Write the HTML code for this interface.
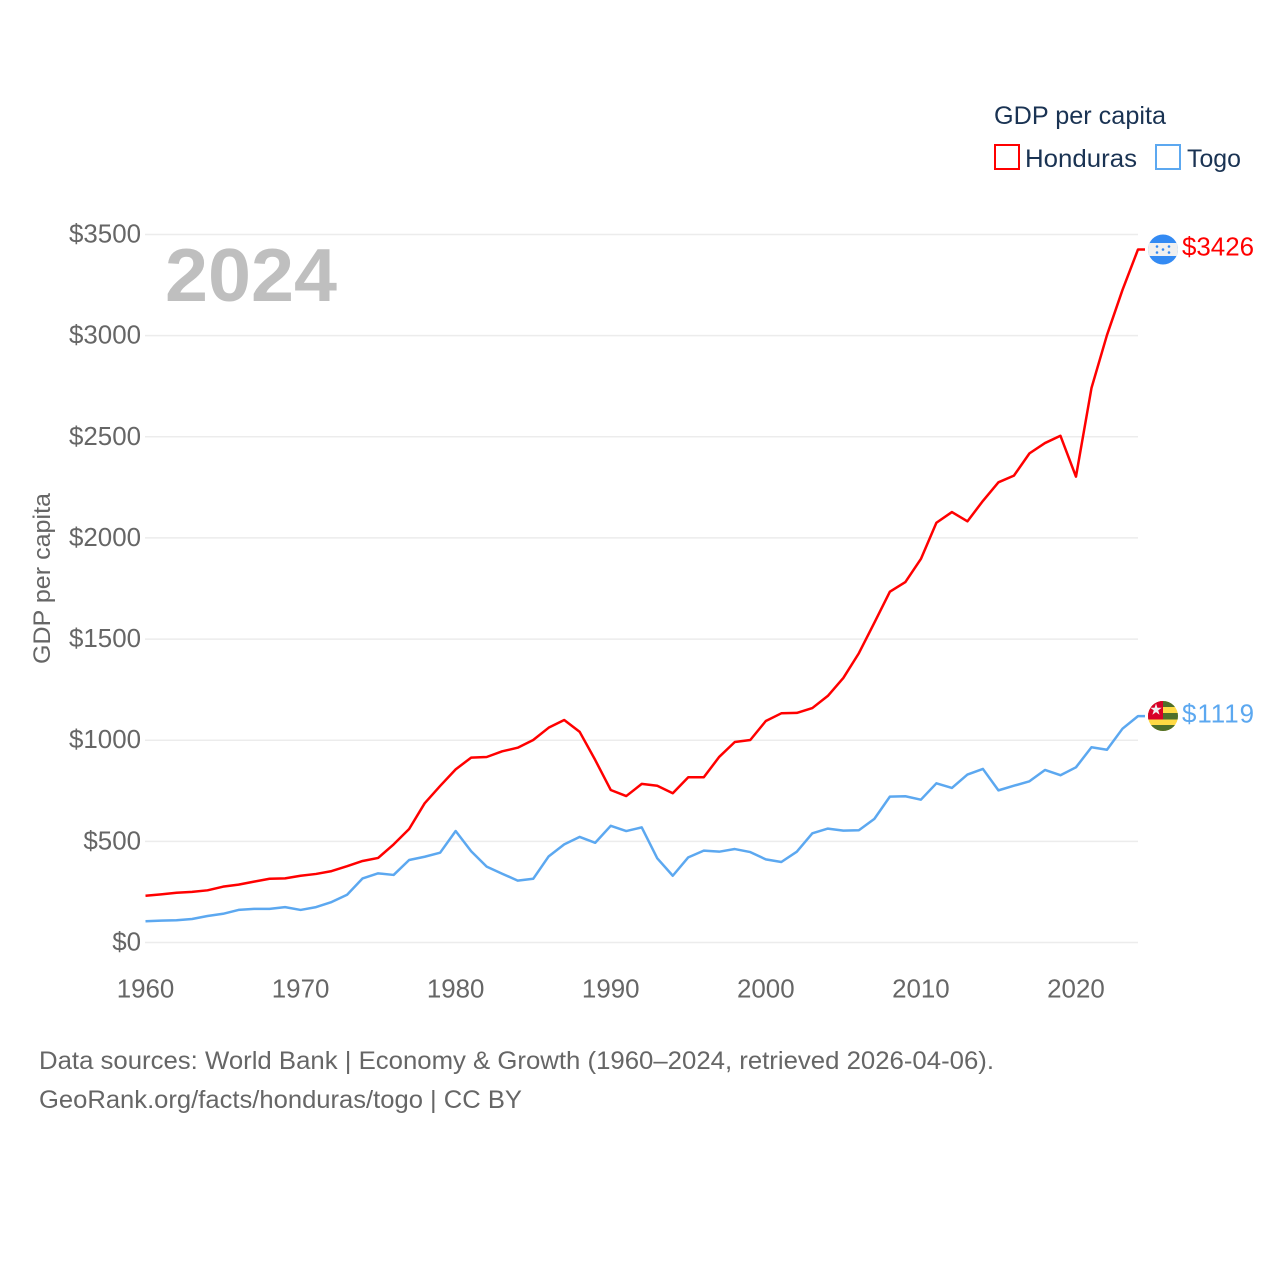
<!DOCTYPE html>
<html lang="en">
<head>
<meta charset="utf-8">
<title>GDP per capita: Honduras and Togo</title>
<style>
html,body{margin:0;padding:0;background:#fff}
svg{display:block}
text{font-family:"Liberation Sans",sans-serif}
</style>
</head>
<body>
<svg id="chart" xmlns="http://www.w3.org/2000/svg" width="1280" height="1280" viewBox="0 0 1280 1280">
  <rect width="1280" height="1280" fill="#fff"/>
  <g id="grid"></g>
  <g id="yticks"></g>
  <g id="xticks"></g>
  <text x="165" y="301" font-size="75" font-weight="700" fill="#bfbfbf" textLength="172" lengthAdjust="spacingAndGlyphs">2024</text>
  <g id="series"></g>
  <text transform="translate(50,664) rotate(-90)" font-size="24.5" fill="#666" textLength="171" lengthAdjust="spacingAndGlyphs">GDP per capita</text>

  <g>
    <text x="994" y="124" font-size="25" fill="#1a3353" textLength="172" lengthAdjust="spacingAndGlyphs">GDP per capita</text>
    <g>
      <rect x="995" y="145" width="24" height="24" fill="none" stroke="#ff0000" stroke-width="2"/>
      <text x="1025" y="167" font-size="25" fill="#1a3353" textLength="112" lengthAdjust="spacingAndGlyphs">Honduras</text>
    </g>
    <g>
      <rect x="1156" y="145" width="24" height="24" fill="none" stroke="#5ca8f0" stroke-width="2"/>
      <text x="1187" y="167" font-size="25" fill="#1a3353" textLength="54" lengthAdjust="spacingAndGlyphs">Togo</text>
    </g>
  </g>

  <defs>
    <clipPath id="clip-hn"><circle cx="1163" cy="249.5" r="15"/></clipPath>
    <clipPath id="clip-tg"><circle cx="1163" cy="716" r="15"/></clipPath>
  </defs>
  <g clip-path="url(#clip-hn)">
    <rect x="1147" y="234" width="32" height="32" fill="#338af3"/>
    <rect x="1147" y="243" width="32" height="13" fill="#f0f0f0"/>
    <g fill="#338af3">
      <circle cx="1163" cy="249.5" r="1.3"/>
      <circle cx="1157" cy="246.5" r="1.3"/>
      <circle cx="1169" cy="246.5" r="1.3"/>
      <circle cx="1157" cy="252.5" r="1.3"/>
      <circle cx="1169" cy="252.5" r="1.3"/>
    </g>
  </g>
  <g clip-path="url(#clip-tg)">
    <rect x="1147" y="700" width="32" height="32" fill="#ffda44"/>
    <rect x="1147" y="700" width="32" height="7" fill="#4f6f2a"/>
    <rect x="1147" y="713" width="32" height="6.5" fill="#4f6f2a"/>
    <rect x="1147" y="725" width="32" height="8" fill="#4f6f2a"/>
    <rect x="1147" y="700" width="16" height="19.5" fill="#d80027"/>
    <polygon points="1156,703.5 1157.4,707.8 1161.8,707.8 1158.2,710.4 1159.6,714.7 1156,712.1 1152.4,714.7 1153.8,710.4 1150.2,707.8 1154.6,707.8" fill="#f0f0f0"/>
  </g>
  <text x="1182" y="255.5" font-size="25.9" fill="#ff0000" textLength="72" lengthAdjust="spacingAndGlyphs">$3426</text>
  <text x="1182" y="722.5" font-size="25.9" fill="#5ca8f0" textLength="72" lengthAdjust="spacing">$1119</text>

  <g>
    <text x="39" y="1069" font-size="25" fill="#666" textLength="955" lengthAdjust="spacingAndGlyphs">Data sources: World Bank | Economy &amp; Growth (1960–2024, retrieved 2026-04-06).</text>
    <text x="39" y="1108" font-size="25" fill="#666" textLength="483" lengthAdjust="spacingAndGlyphs">GeoRank.org/facts/honduras/togo | CC BY</text>
  </g>
</svg>
<script>
const firstYear = 1960;
const hondurasValues = [231,238,246,250,258,276,286,301,315,317,330,339,353,377,403,418,485,561,688,774,856,914,917,945,963,1001,1062,1100,1041,902,754,724,784,775,738,817,817,918,991,1001,1095,1133,1135,1159,1219,1308,1430,1581,1734,1782,1896,2075,2128,2082,2183,2275,2308,2418,2469,2505,2303,2741,3003,3226,3426];
const togoValues = [105,108,110,116,131,142,161,166,166,175,161,175,200,236,317,342,334,408,424,444,551,451,375,340,306,315,426,485,522,493,577,551,569,416,330,421,454,449,462,447,411,398,449,540,563,553,555,611,721,723,706,787,764,830,858,752,775,797,853,827,866,965,953,1057,1119];
const yTickValues = [0,500,1000,1500,2000,2500,3000,3500];
const xTickValues = [1960,1970,1980,1990,2000,2010,2020];

const NS = 'http://www.w3.org/2000/svg';
function xScale(year) { return 145.5 + (year - 1960) * (1138 - 145.5) / 64; }
function yScale(value) { return 942.5 - value * 708 / 3500; }
function make(tag, attrs) {
  const el = document.createElementNS(NS, tag);
  for (const k in attrs) el.setAttribute(k, attrs[k]);
  return el;
}

const grid = document.getElementById('grid');
const yticks = document.getElementById('yticks');
yTickValues.forEach(function (v) {
  const line = make('line', { x1: 145, x2: 1138, y1: yScale(v), y2: yScale(v), stroke: '#ececec', 'stroke-width': 1.5 });
  
  
  grid.appendChild(line);
  const t = make('text', { x: 141, y: yScale(v) + 8, 'text-anchor': 'end', 'font-size': 25.9, fill: '#666' });
  
  
  t.textContent = '$' + v;
  yticks.appendChild(t);
});

const xticks = document.getElementById('xticks');
xTickValues.forEach(function (year) {
  const t = make('text', { x: xScale(year), y: 997.5, 'text-anchor': 'middle', 'font-size': 25.9, fill: '#666' });
  
  
  t.textContent = year;
  xticks.appendChild(t);
});

function drawSeries(name, values, color) {
  const pts = values.map(function (v, i) {
    return xScale(firstYear + i).toFixed(2) + ',' + yScale(v).toFixed(2);
  });
  const last = values[values.length - 1];
  const lastYear = firstYear + values.length - 1;
  pts.push((xScale(lastYear) + 7).toFixed(2) + ',' + yScale(last).toFixed(2));
  const line = make('polyline', { points: pts.join(' '), fill: 'none', stroke: color, 'stroke-width': 2.5, 'stroke-linejoin': 'round' });
  
  
  document.getElementById('series').appendChild(line);
}
drawSeries('togo-line', togoValues, '#5ca8f0');
drawSeries('honduras-line', hondurasValues, '#ff0000');
</script>
</body>
</html>
